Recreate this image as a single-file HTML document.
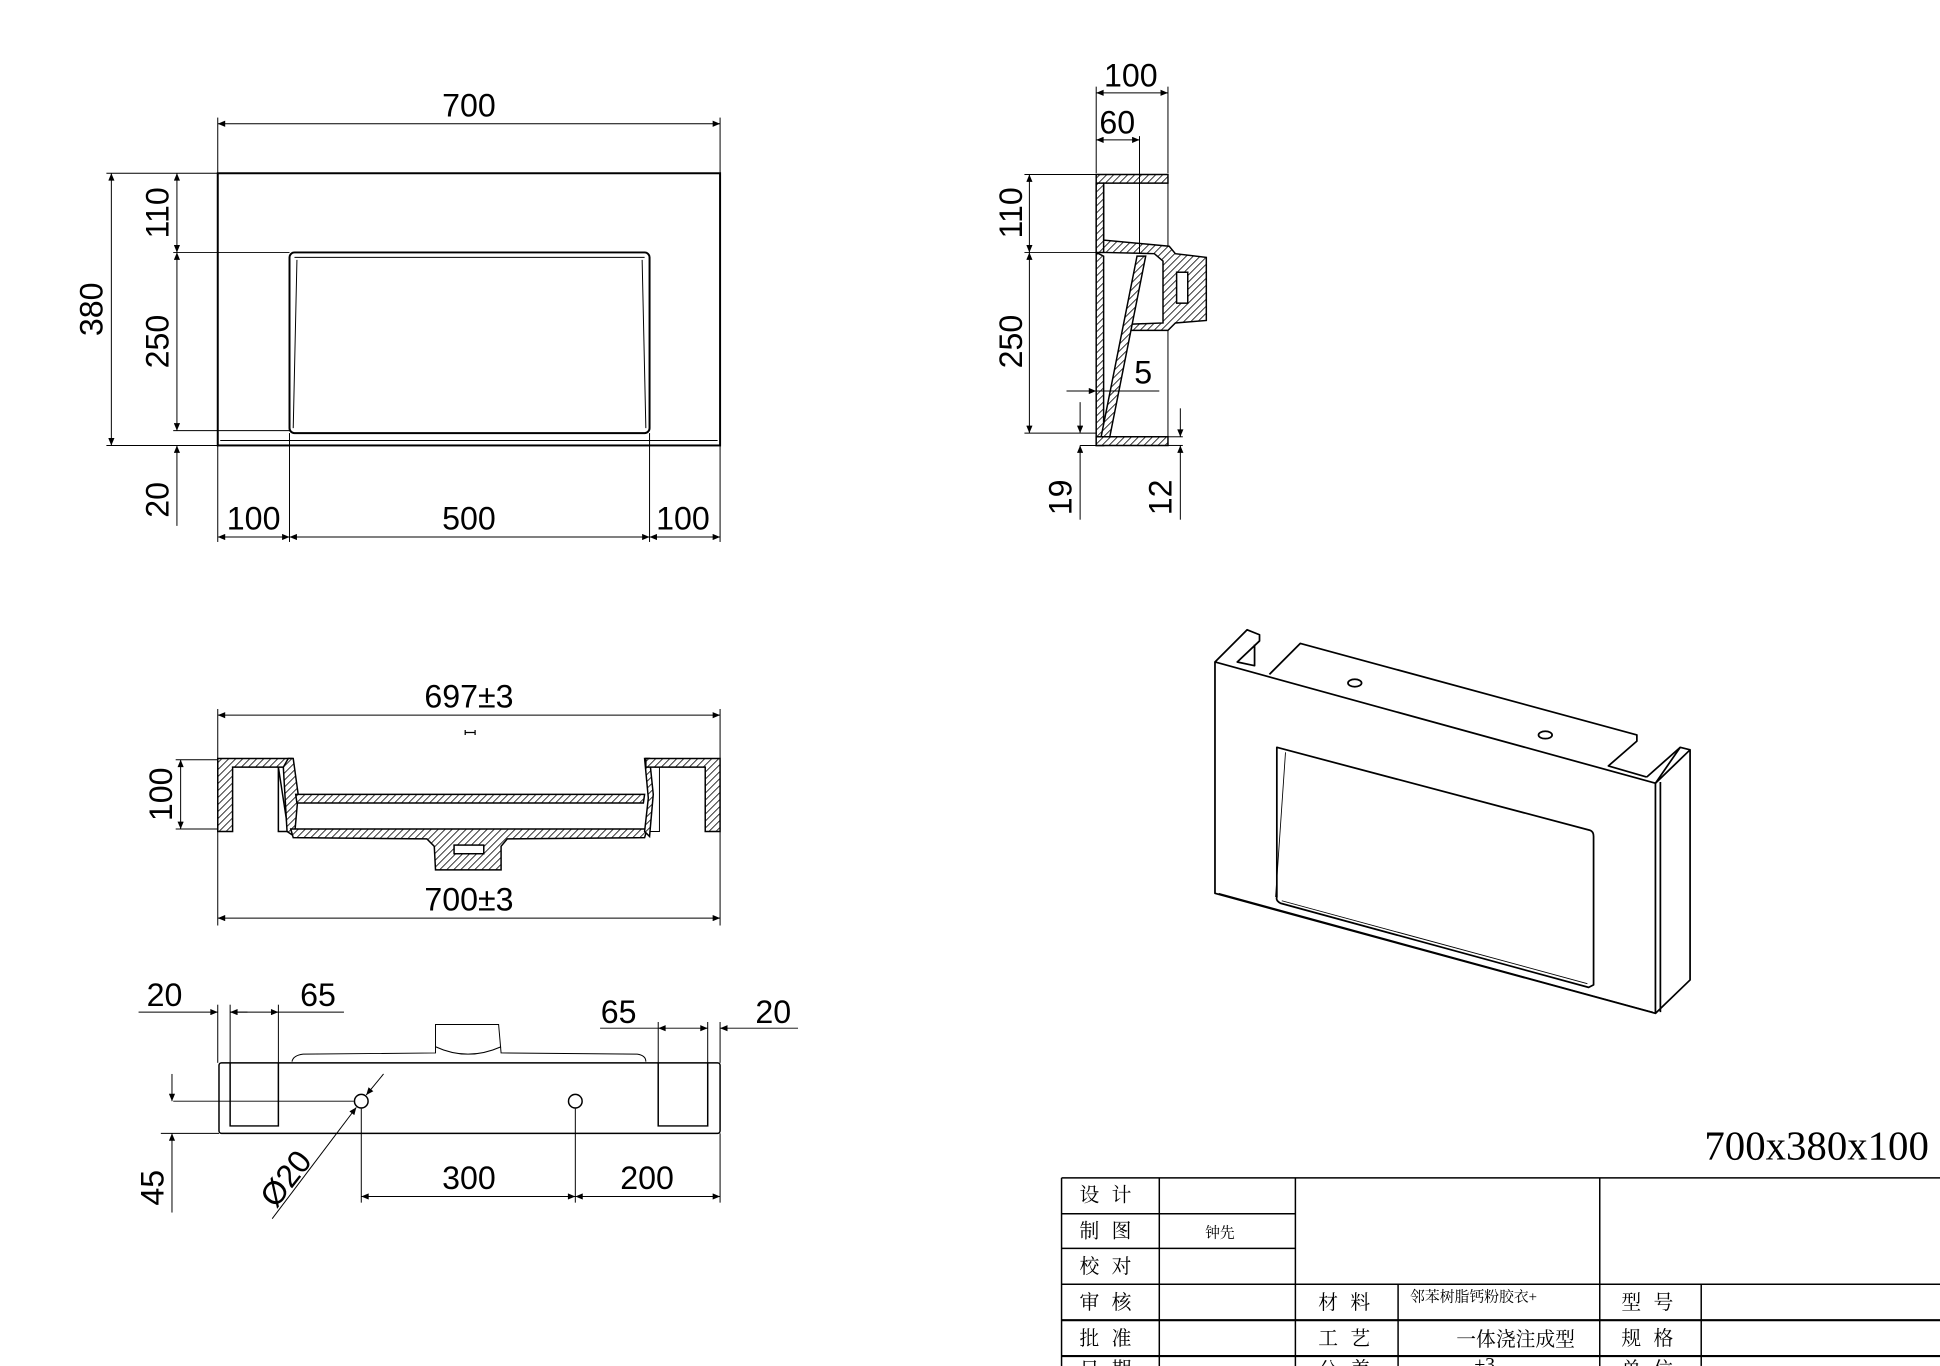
<!DOCTYPE html>
<html><head><meta charset="utf-8"><style>
html,body{margin:0;padding:0;background:#fff;}
svg{display:block;}
text{font-family:"Liberation Sans","Noto Sans CJK SC",sans-serif;fill:#000;}
.cn{font-family:"Liberation Serif","Noto Serif CJK SC",serif;}
</style></head><body>
<svg width="1940" height="1366" viewBox="0 0 1568 1104" xmlns="http://www.w3.org/2000/svg">
<defs>
<pattern id="h" patternUnits="userSpaceOnUse" width="4" height="4" patternTransform="rotate(45)">
<rect width="4" height="4" fill="#fff"/><line x1="0" y1="0" x2="0" y2="4" stroke="#000" stroke-width="1.3"/>
</pattern>
<marker id="a" viewBox="0 0 12 10" refX="12" refY="5" markerWidth="11" markerHeight="5" orient="auto-start-reverse" markerUnits="userSpaceOnUse"><path d="M0,0 L12,5 L0,10z" fill="#000"/></marker>
</defs>
<g stroke="#000" fill="none" stroke-width="0.8">
<!-- TOP VIEW -->
<rect x="176" y="140" width="406" height="220" stroke-width="1.6"/>
<line x1="178" y1="356" x2="580" y2="356"/>
<rect x="234" y="204" width="291" height="146" rx="4" stroke-width="1.6"/>
<path d="M240,210 L237,346 M519,210 L522,346 M238,208 L521,208"/>
<line x1="176" y1="140" x2="176" y2="95"/><line x1="582" y1="140" x2="582" y2="95"/>
<line x1="176" y1="100" x2="582" y2="100" marker-start="url(#a)" marker-end="url(#a)"/>
<line x1="176" y1="140" x2="86" y2="140"/><line x1="176" y1="360" x2="86" y2="360"/>
<line x1="90" y1="140" x2="90" y2="360" marker-start="url(#a)" marker-end="url(#a)"/>
<line x1="234" y1="204" x2="140" y2="204"/><line x1="234" y1="348" x2="140" y2="348"/>
<line x1="143" y1="140" x2="143" y2="204" marker-start="url(#a)" marker-end="url(#a)"/>
<line x1="143" y1="204" x2="143" y2="348" marker-start="url(#a)" marker-end="url(#a)"/>
<line x1="143" y1="360" x2="143" y2="425" marker-start="url(#a)"/>
<line x1="176" y1="360" x2="176" y2="438"/><line x1="234" y1="350" x2="234" y2="438"/>
<line x1="525" y1="350" x2="525" y2="438"/><line x1="582" y1="360" x2="582" y2="438"/>
<line x1="176" y1="434" x2="234" y2="434" marker-start="url(#a)" marker-end="url(#a)"/>
<line x1="234" y1="434" x2="525" y2="434" marker-start="url(#a)" marker-end="url(#a)"/>
<line x1="525" y1="434" x2="582" y2="434" marker-start="url(#a)" marker-end="url(#a)"/>

<!-- SIDE VIEW -->
<g fill="url(#h)" stroke-width="1.2">
<path d="M886,141 L944,141 L944,148 L892,148 L892,194 L945,199 L950,205 L975,208 L975,259 L950,261 L944,267 L913,267 L913,262 L940,261 L940,211 L933,205 L892,204 L886,204 Z"/>
<path d="M886,204 L892,204 L892,148 L886,148 Z"/>
<path d="M886,204 L886,360 L892,360 L892,207 Z"/>
<path d="M919,207 L926,207 L897,353 L890,353 Z"/>
<path d="M886,353 L944,353 L944,360 L886,360 Z"/>
</g>
<rect x="951" y="220" width="9" height="25" fill="#fff" stroke-width="1.2"/>
<line x1="944" y1="148" x2="944" y2="199"/><line x1="944" y1="267" x2="944" y2="353"/>
<line x1="886" y1="140" x2="886" y2="70"/><line x1="944" y1="140" x2="944" y2="70"/>
<line x1="921" y1="110" x2="921" y2="205"/>
<line x1="886" y1="75" x2="944" y2="75" marker-start="url(#a)" marker-end="url(#a)"/>
<line x1="886" y1="113" x2="921" y2="113" marker-start="url(#a)" marker-end="url(#a)"/>
<line x1="886" y1="141" x2="828" y2="141"/><line x1="886" y1="204" x2="828" y2="204"/><line x1="886" y1="350" x2="828" y2="350"/>
<line x1="832" y1="141" x2="832" y2="204" marker-start="url(#a)" marker-end="url(#a)"/>
<line x1="832" y1="204" x2="832" y2="350" marker-start="url(#a)" marker-end="url(#a)"/>
<line x1="862" y1="316" x2="886" y2="316" marker-end="url(#a)"/><line x1="886" y1="316" x2="937" y2="316"/>
<line x1="873" y1="325" x2="873" y2="350" marker-end="url(#a)"/><line x1="873" y1="360" x2="873" y2="420" marker-start="url(#a)"/>
<line x1="873" y1="360" x2="886" y2="360"/>
<line x1="954" y1="330" x2="954" y2="353" marker-end="url(#a)"/><line x1="954" y1="360" x2="954" y2="420" marker-start="url(#a)"/>
<line x1="944" y1="353" x2="956" y2="353"/><line x1="944" y1="360" x2="956" y2="360"/>

<!-- SECTION VIEW -->
<g fill="url(#h)" stroke-width="1.2">
<path d="M176,613 L236,613 L236,620 L188,620 L188,672 L176,672 Z"/>
<path d="M225,620 L225,672 L233,672 Z" fill="#fff"/>
<path d="M233,613 L237,613 L241,642 L238,676 L232,672 L229,620 Z"/>
<path d="M239,642 L521,642 L520,649 L240,649 Z"/>
<path d="M235,670 L523,670 L521,677 L410,678 L405,684 L405,703 L352,703 L351,684 L345,678 L237,677 Z"/>
<rect x="367" y="683" width="24" height="7" fill="#fff"/>
<path d="M521,613 L525,613 L528,642 L525,676 L521,672 L524,645 Z"/>
<path d="M522,613 L582,613 L582,672 L570,672 L570,620 L522,620 Z"/>
</g>
<path d="M229,620 L225,620 L225,672 L233,672 M529,620 L533,620 L533,672 L525,672"/>
<line x1="176" y1="672" x2="176" y2="748"/><line x1="582" y1="672" x2="582" y2="748"/>
<line x1="176" y1="613" x2="176" y2="573"/><line x1="582" y1="613" x2="582" y2="573"/>
<line x1="176" y1="578" x2="582" y2="578" marker-start="url(#a)" marker-end="url(#a)"/>
<line x1="176" y1="742" x2="582" y2="742" marker-start="url(#a)" marker-end="url(#a)"/>
<line x1="176" y1="614" x2="142" y2="614"/><line x1="176" y1="670" x2="142" y2="670"/>
<line x1="146" y1="614" x2="146" y2="670" marker-start="url(#a)" marker-end="url(#a)"/>
<path d="M376,592 h8 M376,590 v4 M384,590 v4" stroke-width="1"/>

<!-- BOTTOM VIEW -->
<rect x="177" y="859" width="405" height="57" rx="2" stroke-width="1.2"/>
<path d="M186,859 V910 H225 V859 M532,859 V910 H572 V859" stroke-width="1.2"/>
<path d="M236,858 Q237,853 245,852 L352,851 L352,828 L403,828 L405,851 L515,852 Q522,853 522,858" />
<path d="M352,846 Q378,858 405,846"/>
<circle cx="292" cy="890" r="5.5" stroke-width="1.2"/><circle cx="465" cy="890" r="5.5" stroke-width="1.2"/>
<line x1="176" y1="859" x2="176" y2="812"/><line x1="186" y1="859" x2="186" y2="812"/><line x1="225" y1="859" x2="225" y2="812"/>
<line x1="112" y1="818" x2="176" y2="818" marker-end="url(#a)"/>
<line x1="186" y1="818" x2="200" y2="818" marker-start="url(#a)"/>
<line x1="186" y1="818" x2="225" y2="818" marker-end="url(#a)"/>
<line x1="225" y1="818" x2="278" y2="818"/>
<line x1="532" y1="859" x2="532" y2="826"/><line x1="572" y1="859" x2="572" y2="826"/><line x1="582" y1="859" x2="582" y2="826"/>
<line x1="485" y1="831" x2="532" y2="831"/>
<line x1="532" y1="831" x2="572" y2="831" marker-start="url(#a)" marker-end="url(#a)"/>
<line x1="582" y1="831" x2="645" y2="831" marker-start="url(#a)"/>
<line x1="140" y1="890" x2="286" y2="890"/><line x1="130" y1="916" x2="177" y2="916"/>
<line x1="139" y1="868" x2="139" y2="890" marker-end="url(#a)"/>
<line x1="139" y1="916" x2="139" y2="980" marker-start="url(#a)"/>
<line x1="220" y1="985" x2="288" y2="895" marker-end="url(#a)"/>
<line x1="296" y1="885" x2="310" y2="868" marker-start="url(#a)"/>
<line x1="292" y1="896" x2="292" y2="972"/><line x1="465" y1="896" x2="465" y2="972"/><line x1="582" y1="916" x2="582" y2="972"/>
<line x1="292" y1="967" x2="465" y2="967" marker-start="url(#a)" marker-end="url(#a)"/>
<line x1="465" y1="967" x2="582" y2="967" marker-start="url(#a)" marker-end="url(#a)"/>

<!-- ISOMETRIC -->
<g stroke-width="1.4" stroke-linejoin="round">
<path d="M982,535 L982,722 L1338,819 L1338,633 Z"/>
<path d="M1338,633 L1366,606 L1366,792 L1338,819"/>
<path d="M1342,632 L1342,818"/>
<path d="M982,535 L1008,509 L1018,513 L1018,518 L1000,535 L1014,538 L1014,521"/>
<path d="M1026,545 L1051,520 L1323,594 L1323,599 L1300,619 L1331,628"/>
<path d="M1338,633 L1358,604 L1366,606"/>
<path d="M1331,628 L1358,604"/>
<path d="M1032,604 L1285,671 Q1288,672 1288,676 L1288,796 L1284,798 L1035,730 Q1031,728 1032,725 Z"/>
<path d="M1036,728 L1283,795 M1039,608 L1031,725" stroke-width="0.7"/>
<path d="M985,722 L1336,818" stroke-width="0.8"/>
<ellipse cx="1095" cy="552" rx="5.5" ry="3"/><ellipse cx="1249" cy="594" rx="5.5" ry="3"/>
</g>

<!-- TITLE BLOCK -->
<g stroke-width="1.2">
<line x1="858" y1="952" x2="1568" y2="952"/>
<line x1="858" y1="981" x2="1047" y2="981"/><line x1="858" y1="1009" x2="1047" y2="1009"/>
<line x1="858" y1="1038" x2="1568" y2="1038"/><line x1="858" y1="1067" x2="1568" y2="1067" stroke-width="1.8"/>
<line x1="858" y1="1096" x2="1568" y2="1096" stroke-width="1.8"/>
<line x1="858" y1="952" x2="858" y2="1104"/><line x1="937" y1="952" x2="937" y2="1104"/>
<line x1="1047" y1="952" x2="1047" y2="1104"/><line x1="1293" y1="952" x2="1293" y2="1104"/>
<line x1="1130" y1="1038" x2="1130" y2="1104"/><line x1="1375" y1="1038" x2="1375" y2="1104"/>
</g>
</g>

<g font-size="26" text-anchor="middle">
<text x="379" y="94">700</text>
<text transform="translate(83,250) rotate(-90)">380</text>
<text transform="translate(136,172) rotate(-90)">110</text>
<text transform="translate(136,276) rotate(-90)">250</text>
<text transform="translate(136,404) rotate(-90)">20</text>
<text x="205" y="428">100</text><text x="379" y="428">500</text><text x="552" y="428">100</text>
<text x="914" y="70">100</text><text x="903" y="108">60</text>
<text transform="translate(826,172) rotate(-90)">110</text>
<text transform="translate(826,276) rotate(-90)">250</text>
<text x="924" y="310">5</text>
<text transform="translate(866,402) rotate(-90)">19</text>
<text transform="translate(947,402) rotate(-90)">12</text>
<text x="379" y="572">697±3</text>
<text x="379" y="736">700±3</text>
<text transform="translate(139,642) rotate(-90)">100</text>
<text x="133" y="813">20</text><text x="257" y="813">65</text>
<text x="500" y="827">65</text><text x="625" y="827">20</text>
<text transform="translate(132,960) rotate(-90)">45</text>
<text transform="translate(238,958) rotate(-52)">Ø20</text>
<text x="379" y="961">300</text><text x="523" y="961">200</text>
</g>
<text x="1559" y="937" font-size="33" text-anchor="end" style="font-family:'Liberation Serif',serif">700x380x100</text>
<g class="cn" font-size="16" text-anchor="middle" letter-spacing="3">
<text x="895" y="971" class="cn">设 计</text>
<text x="895" y="1000" class="cn">制 图</text>
<text x="895" y="1029" class="cn">校 对</text>
<text x="895" y="1058" class="cn">审 核</text>
<text x="895" y="1087" class="cn">批 准</text>
<text x="895" y="1112" class="cn">日 期</text>
<text x="1088" y="1058" class="cn">材 料</text>
<text x="1088" y="1087" class="cn">工 艺</text>
<text x="1088" y="1112" class="cn">公 差</text>
<text x="1333" y="1058" class="cn">型 号</text>
<text x="1333" y="1087" class="cn">规 格</text>
<text x="1333" y="1112" class="cn">单 位</text>
</g>
<g class="cn" text-anchor="middle">
<text x="1225" y="1088" font-size="16" class="cn">一体浇注成型</text>
<text x="1200" y="1108" font-size="16" class="cn">±3</text>
<text x="986" y="1000" font-size="12" class="cn">钟先</text>
<text x="1191" y="1052" font-size="12" class="cn">邻苯树脂钙粉胶衣+</text>
</g>
</svg>
</body></html>
